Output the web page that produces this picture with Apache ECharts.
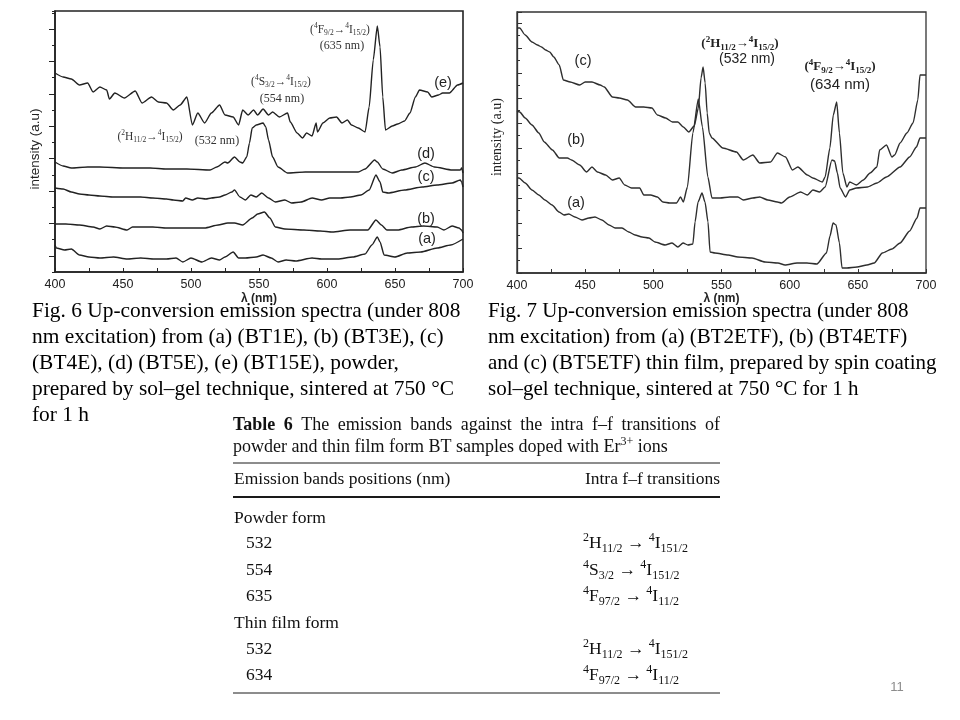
<!DOCTYPE html>
<html><head><meta charset="utf-8">
<script src="https://cdn.jsdelivr.net/npm/echarts@6/dist/echarts.min.js"></script>
<style>html,body{margin:0;padding:0;background:#fff}#main{width:960px;height:720px}</style>
</head><body><div id="main"></div>
<script>
// ---------- Fig. 6 : powder samples (wavelength nm, intensity a.u.) ----------
const powderA_nm  = [400,401,407,412,418,425,433,443,453,463,473,482,489,494,500,508,515,521,525,531,535,540,548,553,559,564,570,577,589,596,608,619,628,633,637,639,642,650,659,669,681,691,700];
const powderA_int = [27,24,22,23,17,15,14,15,13,14,13,13,14,10,14,10,14,12,15,20,14,14,15,17,14,10,12,11,14,13,13,15,18,27,35,30,17,15,19,20,24,27,33];
const powderB_nm  = [400,408,418,428,433,438,444,453,457,465,472,482,492,500,510,520,527,532,538,545,549,554,558,562,569,583,595,604,617,630,636,640,644,652,662,671,681,686,692,697,699,700];
const powderB_int = [48,48,47,45,43,46,45,42,45,45,45,44,44,44,44,47,49,49,47,54,58,60,54,45,43,42,41,40,42,42,52,47,42,42,45,46,45,42,46,44,42,39];
const powderC_nm  = [400,406,412,418,425,433,443,453,463,472,482,487,494,496,501,505,511,515,521,525,530,532,536,540,544,548,552,557,562,569,574,581,589,596,602,610,617,625,631,636,639,641,645,657,670,681,692,698,699,700];
const powderC_int = [84,83,80,78,77,76,75,75,75,74,73,72,71,74,72,74,73,74,75,77,80,82,75,72,77,75,79,74,70,72,69,70,74,72,74,74,75,77,82,97,90,80,79,82,85,87,89,92,90,85];
const powderD_nm  = [400,406,412,424,433,451,470,482,497,514,519,525,527,532,536,538,541,543,545,548,553,555,557,560,564,571,584,602,623,628,635,637,641,648,655,665,672,679,692,698,699,700];
const powderD_int = [110,106,104,105,105,104,104,103,103,102,105,110,109,115,110,109,115,129,144,147,149,145,132,115,105,99,100,100,100,103,112,110,103,99,102,105,109,105,102,102,104,99];
const powderE_nm  = [400,406,412,418,424,428,433,438,440,444,451,459,464,471,476,482,487,492,497,501,505,510,515,521,525,531,535,538,542,546,549,553,557,560,565,571,573,578,582,585,589,592,593,597,602,607,611,615,618,623,628,631,634,637,639,641,643,648,652,657,661,665,668,674,677,682,685,690,696,700];
const powderE_int = [199,195,193,187,189,180,185,182,173,179,174,181,169,175,170,169,162,167,175,147,159,149,159,167,157,155,147,162,157,162,157,163,157,160,155,159,150,139,134,139,136,149,140,149,154,155,149,152,147,144,140,165,212,246,225,175,142,146,148,151,159,175,182,180,175,177,179,179,187,189];

// ---------- Fig. 7 : thin films ----------
const filmA_nm  = [400,401.5,406,411,416,420.5,425.7,430.8,434.5,438,442.5,447.7,452.8,457.2,462.3,467.5,472,477,482,486.6,491.7,496.8,501.2,508.6,513.7,518,521.8,525.4,529,530.6,532.8,535.7,537.9,540.1,541.6,545.2,554.8,562,572.4,581.9,591.4,596.6,605.4,612.7,620,627,629.6,631.8,634,636.5,638.4,642,649.4,656.7,662,668,675,681,688,693.4,695.6,700];
const filmA_int = [95,95,90,83,78,73,68,61,58,59,56,53,55,56,53,48,45,45,41,38,36,35,31,28,30,26,30,28,29,51,71,80,71,51,21,20,18,16,15,11,10,8,10,10,9,20,37,50,48,30,5,5,6,8,10,20,24,30,42,55,65,65];
const filmB_nm  = [400,402,406,411,416,420,426,431,437,440,446,451,455,459,465,470,475,479,484,490,493,498,503,507,512,517,520,522,525,529,533,536,540,543,549,556,562,566,573,578,584,591,594,600,608,613,617,622,626,631,633,635,637,641,644,649,657,664,671,681,688,693,695.6,700];
const filmB_int = [162,161,155,148,140,131,123,115,115,113,108,101,106,101,98,93,95,88,85,85,78,78,76,71,70,70,76,71,86,140,174,146,96,75,75,76,76,73,75,76,73,71,70,76,81,78,83,81,86,113,112,100,85,76,83,85,86,90,96,106,116,126,135,135];
const filmC_nm  = [400,402,406,411,415,418,421,424,427,431,434,439,446,450,455,461,464,470,475,481,487,493,499,503,509,514,518,522,526,530,533,535,536.5,538,539.5,541,543,551,561,566,573,578,586,591,597,602,606,613,617,624,626,629.5,632,634.5,636.5,639,642,644,649,654,659,664,666,671,675,677,681,686,690.5,694,695.6,700];
const filmC_int = [245,245,238,231,228,226,223,221,216,208,193,191,188,191,191,188,186,176,175,173,166,166,165,158,155,151,151,146,141,147,165,195,206,190,160,140,135,125,121,113,118,110,111,120,116,103,106,98,95,91,96,125,158,171,140,100,86,91,88,93,100,106,123,128,116,118,130,140,150,173,198,198];

// ---------- texts ----------
const powderLetters = ['(a)','(b)','(c)','(d)','(e)'];
const filmLetters = ['(a)','(b)','(c)'];
const caption6 = [
  'Fig. 6 Up-conversion emission spectra (under 808',
  'nm excitation) from (a) (BT1E), (b) (BT3E), (c)',
  '(BT4E), (d) (BT5E), (e) (BT15E), powder,',
  'prepared by sol\u2013gel technique, sintered at 750 \u00b0C',
  'for 1 h'
];
const caption7 = [
  'Fig. 7 Up-conversion emission spectra (under 808',
  'nm excitation) from (a) (BT2ETF), (b) (BT4ETF)',
  'and (c) (BT5ETF) thin film, prepared by spin coating',
  'sol\u2013gel technique, sintered at 750 \u00b0C for 1 h'
];
const tableTitle1 = 'The emission bands against the intra f\u2013f transitions of';
const tableHeader = ['Emission bands positions (nm)', 'Intra f\u2013f transitions'];
const tableGroups = ['Powder form', 'Thin film form'];
const tableBands = ['532', '554', '635', '532', '634'];
const tableTransitions = [
  '^{2}H_{11/2} \u2192 ^{4}I_{151/2}',
  '^{4}S_{3/2} \u2192 ^{4}I_{151/2}',
  '^{4}F_{97/2} \u2192 ^{4}I_{11/2}',
  '^{2}H_{11/2} \u2192 ^{4}I_{151/2}',
  '^{4}F_{97/2} \u2192 ^{4}I_{11/2}'
];

const SERIF = '"Liberation Serif", "Times New Roman", serif';
const SANS = '"Liberation Sans", Arial, sans-serif';

function pairs(xs, ys) { return xs.map((x, i) => [x, ys[i]]); }

function txt(x, y, text, o) {
  o = o || {};
  const size = o.fontSize || 12, fam = o.fontFamily || SERIF, w = o.fontWeight || 'normal';
  const al = o.align || 'left';
  return {
    type: 'text', x: x, y: y, z: 50, silent: true, rotation: o.rotation || 0,
    style: {
      text: text, fill: o.fill || '#111', fontSize: size, fontFamily: fam, fontWeight: w,
      font: w + ' ' + size + 'px ' + fam,
      align: al, textAlign: al, verticalAlign: 'middle', textVerticalAlign: 'middle'
    }
  };
}

function toRich(markup) {
  return markup.replace(/\^\{([^}]*)\}|_\{([^}]*)\}|([^^_]+)/g, function (m, sp, sb, t) {
    if (sp !== undefined) return '{sp|' + sp + '}';
    if (sb !== undefined) return '{sb|' + sb + '}';
    return '{n|' + t + '}';
  });
}

function richTxt(x, y, markup, size, small, o) {
  o = o || {};
  const fam = o.fontFamily || SERIF, w = o.fontWeight || 'normal', fill = o.fill || '#111';
  const L = Math.round(size * 1.3);
  const al = o.align || 'left';
  const mk = (s, lh, va) => ({ fontSize: s, fontFamily: fam, fontWeight: w, fill: fill,
    font: w + ' ' + s + 'px ' + fam, lineHeight: lh, verticalAlign: va });
  return {
    type: 'text', x: x, y: y, z: 50, silent: true,
    style: {
      text: toRich(markup), fill: fill, fontSize: size, fontFamily: fam, fontWeight: w,
      align: al, textAlign: al, verticalAlign: 'middle', textVerticalAlign: 'middle',
      rich: { n: mk(size, L, 'middle'), sp: mk(small, small + 1, 'top'), sb: mk(small, small + 1, 'bottom') }
    }
  };
}

const ctx = document.createElement('canvas').getContext('2d');
function measure(t, font) { ctx.font = font; return ctx.measureText(t).width; }

function justify(words, x0, x1, y, size) {
  const ws = words.map(w => measure(w.t, (w.b ? 'bold ' : 'normal ') + size + 'px ' + SERIF));
  const total = ws.reduce((a, b) => a + b, 0);
  const gap = (x1 - x0 - total) / (words.length - 1);
  const els = []; let x = x0;
  words.forEach((w, i) => { els.push(txt(x, y, w.t, { fontSize: size, fontWeight: w.b ? 'bold' : 'normal' })); x += ws[i] + gap; });
  return els;
}

function hline(x1, x2, y, w) {
  return { type: 'line', z: 50, silent: true, shape: { x1: x1, y1: y, x2: x2, y2: y }, style: { stroke: '#1a1a1a', lineWidth: w } };
}

const g = [];
// axis titles (y)
g.push(txt(35.5, 149, 'intensity (a.u)', { fontFamily: SANS, fontSize: 13.5, align: 'center', rotation: Math.PI / 2, fill: '#222' }));
g.push(txt(497, 137, 'intensity (a.u)', { fontFamily: SERIF, fontSize: 14, align: 'center', rotation: Math.PI / 2, fill: '#222' }));

// Fig 6 annotations
g.push(richTxt(340, 30, '(^{4}F_{9/2}\u2192^{4}I_{15/2})', 11.5, 7.5, { align: 'center', fill: '#333' }));
g.push(txt(342, 46, '(635 nm)', { fontSize: 12, align: 'center', fill: '#333' }));
g.push(richTxt(281, 82, '(^{4}S_{3/2}\u2192^{4}I_{15/2})', 11.5, 7.5, { align: 'center', fill: '#333' }));
g.push(txt(282, 99, '(554 nm)', { fontSize: 12, align: 'center', fill: '#333' }));
g.push(richTxt(150, 137, '(^{2}H_{11/2}\u2192^{4}I_{15/2})', 11.5, 7.5, { align: 'center', fill: '#333' }));
g.push(txt(217, 141, '(532 nm)', { fontSize: 12, align: 'center', fill: '#333' }));
const p6pos = [[427, 239], [426, 219], [426, 177], [426, 154], [443, 83]];
powderLetters.forEach((s, i) => g.push(txt(p6pos[i][0], p6pos[i][1], s, { fontFamily: SANS, fontSize: 14.5, align: 'center', fill: '#222' })));

// Fig 7 annotations
g.push(richTxt(740, 44, '(^{2}H_{11/2}\u2192^{4}I_{15/2})', 13, 9, { align: 'center', fontWeight: 'bold', fill: '#222' }));
g.push(txt(747, 59, '(532 nm)', { fontFamily: SANS, fontSize: 14, align: 'center', fill: '#222' }));
g.push(richTxt(840, 67, '(^{4}F_{9/2}\u2192^{4}I_{15/2})', 13, 9, { align: 'center', fontWeight: 'bold', fill: '#222' }));
g.push(txt(840, 85, '(634 nm)', { fontFamily: SANS, fontSize: 15, align: 'center', fill: '#222' }));
const p7pos = [[576, 203], [576, 140], [583, 61]];
filmLetters.forEach((s, i) => g.push(txt(p7pos[i][0], p7pos[i][1], s, { fontFamily: SANS, fontSize: 14.5, align: 'center', fill: '#222' })));

// captions
caption6.forEach((s, i) => g.push(txt(32, 311 + i * 26.2, s, { fontSize: 21.4, fill: '#000' })));
caption7.forEach((s, i) => g.push(txt(488, 311 + i * 26, s, { fontSize: 21, fill: '#000' })));

// table
const titleWords = [{ t: 'Table', b: true }, { t: '6', b: true }].concat(tableTitle1.split(' ').map(t => ({ t: t })));
justify(titleWords, 233, 720, 425, 18).forEach(e => g.push(e));
g.push(richTxt(233, 447, 'powder and thin film form BT samples doped with Er^{3+} ions', 18, 12, {}));
g.push(hline(233, 720, 463, 1));
g.push(txt(234, 479, tableHeader[0], { fontSize: 17.5 }));
g.push(txt(720, 479, tableHeader[1], { fontSize: 17.5, align: 'right' }));
g.push(hline(233, 720, 497, 2.2));
g.push(txt(234, 518, tableGroups[0], { fontSize: 17.5 }));
g.push(txt(234, 623, tableGroups[1], { fontSize: 17.5 }));
const rowY = [543, 570, 596, 649, 675];
tableBands.forEach((b, i) => {
  g.push(txt(246, rowY[i], b, { fontSize: 17.5 }));
  g.push(richTxt(583, rowY[i], tableTransitions[i], 17.5, 12, {}));
});
g.push(hline(233, 720, 693, 1));
g.push(txt(897, 687, '11', { fontFamily: SANS, fontSize: 13, align: 'center', fill: '#8c8c8c' }));

function xAx(gi, c, nameGap) {
  return {
    gridIndex: gi, type: 'value', min: 400, max: 700, interval: 50,
    axisLine: { show: true, onZero: false, lineStyle: { color: c, width: 1.5 } },
    axisTick: { show: true, inside: true, length: 4, lineStyle: { color: c } },
    minorTick: { show: true, splitNumber: 2, length: 4, lineStyle: { color: c } },
    axisLabel: { fontSize: 12.5, color: '#222', fontFamily: SANS, margin: 6 },
    splitLine: { show: false }, minorSplitLine: { show: false },
    name: '\u03bb (nm)', nameLocation: 'middle', nameGap: nameGap,
    nameTextStyle: { fontSize: 12, color: '#222', fontFamily: SANS, fontWeight: 'bold' }
  };
}

const curve = (name, gi, nm, val, c) => ({
  name: name, type: 'line', xAxisIndex: gi, yAxisIndex: gi, data: pairs(nm, val),
  showSymbol: false, symbol: 'none', smooth: 0.2, smoothMonotone: 'x',
  lineStyle: { color: c, width: 1.4 }, silent: true
});

const c6 = '#222', c7 = '#2e2e2e';
const option = {
  animation: false,
  backgroundColor: '#ffffff',
  grid: [
    { left: 55, top: 11, width: 408, height: 261, show: true, borderColor: '#222', borderWidth: 1.6, backgroundColor: 'transparent', containLabel: false, outerBoundsMode: 'none' },
    { left: 517, top: 12, width: 409, height: 261, show: true, borderColor: '#333', borderWidth: 1.3, backgroundColor: 'transparent', containLabel: false, outerBoundsMode: 'none' }
  ],
  xAxis: [xAx(0, '#222', 21), xAx(1, '#333', 18)],
  yAxis: [
    { gridIndex: 0, type: 'value', min: 0, max: 261, interval: 32.4,
      axisLine: { show: true, lineStyle: { color: '#222', width: 1.5 } },
      axisTick: { show: true, inside: false, length: 3, lineStyle: { color: '#222' } },
      minorTick: { show: true, splitNumber: 2, length: 6, lineStyle: { color: '#222' } },
      axisLabel: { show: false }, splitLine: { show: false }, minorSplitLine: { show: false } },
    { gridIndex: 1, type: 'value', min: 0, max: 261, interval: 25,
      axisLine: { show: true, lineStyle: { color: '#333', width: 1.3 } },
      axisTick: { show: true, inside: true, length: 5, lineStyle: { color: '#333' } },
      minorTick: { show: true, splitNumber: 2, length: 3, lineStyle: { color: '#333' } },
      axisLabel: { show: false }, splitLine: { show: false }, minorSplitLine: { show: false } }
  ],
  series: [
    curve('BT1E', 0, powderA_nm, powderA_int, c6),
    curve('BT3E', 0, powderB_nm, powderB_int, c6),
    curve('BT4E', 0, powderC_nm, powderC_int, c6),
    curve('BT5E', 0, powderD_nm, powderD_int, c6),
    curve('BT15E', 0, powderE_nm, powderE_int, c6),
    curve('BT2ETF', 1, filmA_nm, filmA_int, c7),
    curve('BT4ETF', 1, filmB_nm, filmB_int, c7),
    curve('BT5ETF', 1, filmC_nm, filmC_int, c7)
  ],
  graphic: { elements: g }
};

const chart = echarts.init(document.getElementById('main'), null, { renderer: 'canvas' });
chart.setOption(option);
</script></body></html>
